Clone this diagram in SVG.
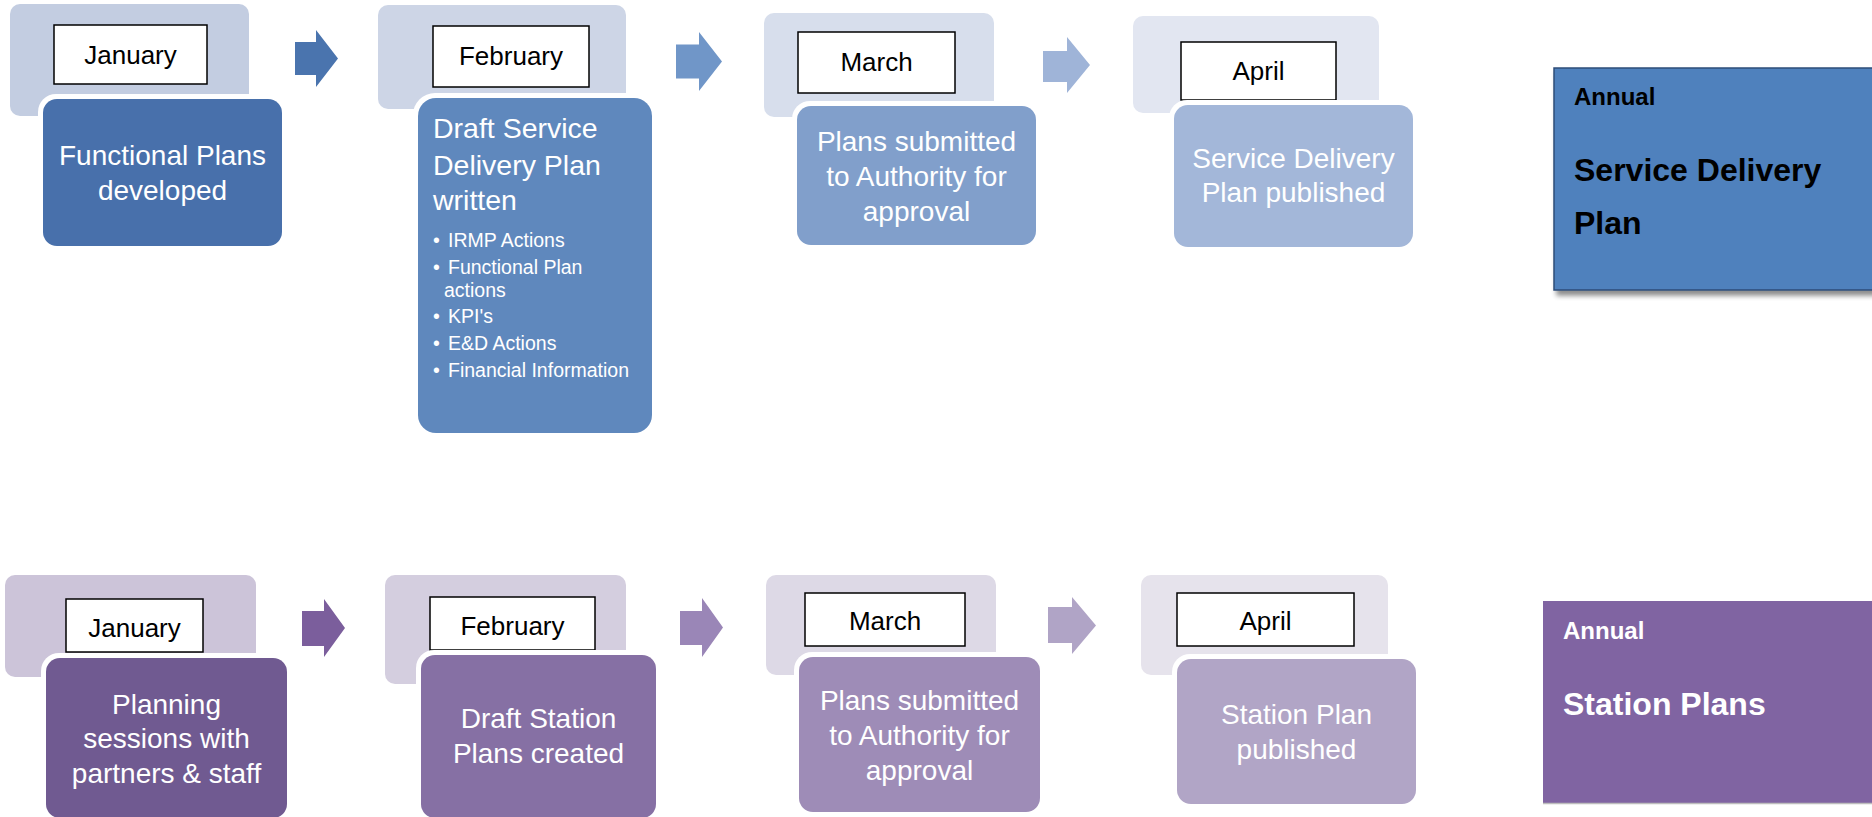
<svg xmlns="http://www.w3.org/2000/svg" width="1872" height="817" viewBox="0 0 1872 817">
  <style>
    .panel { stroke: none; }
    .label { fill: #ffffff; stroke: #000000; stroke-width: 1.5; }
    .halo { fill: #ffffff; }
    .month { font-family: "Liberation Sans", Arial, sans-serif; font-size: 26px; fill: #000000; text-anchor: middle; }
    .body { font-family: "Liberation Sans", Arial, sans-serif; font-size: 28px; fill: #ffffff; text-anchor: middle; }
    .bodyl { font-family: "Liberation Sans", Arial, sans-serif; font-size: 28.5px; fill: #ffffff; }
    .bullet { font-family: "Liberation Sans", Arial, sans-serif; font-size: 19.5px; fill: #ffffff; }
    .small { font-family: "Liberation Sans", Arial, sans-serif; font-size: 24px; font-weight: bold; }
    .title { font-family: "Liberation Sans", Arial, sans-serif; font-size: 32px; font-weight: bold; }
  </style>
  <defs>
    <filter id="shadow" x="-10%" y="-10%" width="130%" height="130%">
      <feGaussianBlur in="SourceAlpha" stdDeviation="2.5"/>
      <feOffset dx="3" dy="5" result="b"/>
      <feComponentTransfer><feFuncA type="linear" slope="0.45"/></feComponentTransfer>
      <feMerge><feMergeNode/><feMergeNode in="SourceGraphic"/></feMerge>
    </filter>
  </defs>

  <rect width="1872" height="817" fill="#ffffff"/>

  <!-- Service Delivery Plan row -->
  <g id="sdp-january">
    <rect class="panel" x="10" y="4" width="239" height="112" rx="10" fill="#C3CDE1"/>
    <rect class="label" x="54" y="25" width="153" height="59"/>
    <text class="month" x="130.5" y="64">January</text>
    <rect class="halo" x="38" y="94" width="249" height="157" rx="18"/>
    <rect x="43" y="99" width="239" height="147" rx="14" fill="#4870AB"/>
    <text class="body" x="162.5" y="165">Functional Plans</text>
    <text class="body" x="162.5" y="200">developed</text>
  </g>

  <g id="sdp-february">
    <rect class="panel" x="378" y="5" width="248" height="104" rx="10" fill="#CDD5E6"/>
    <rect class="label" x="433" y="26" width="156" height="61"/>
    <text class="month" x="511" y="65">February</text>
    <rect class="halo" x="413" y="93" width="244" height="345" rx="22"/>
    <rect x="418" y="98" width="234" height="335" rx="18" fill="#5F88BD"/>
    <text class="bodyl" x="433" y="138">Draft Service</text>
    <text class="bodyl" x="433" y="175">Delivery Plan</text>
    <text class="bodyl" x="433" y="210">written</text>
    <text class="bullet" x="433" y="247">•</text><text class="bullet" x="448" y="247">IRMP Actions</text>
    <text class="bullet" x="433" y="274">•</text><text class="bullet" x="448" y="274">Functional Plan</text>
    <text class="bullet" x="444" y="297">actions</text>
    <text class="bullet" x="433" y="323">•</text><text class="bullet" x="448" y="323">KPI's</text>
    <text class="bullet" x="433" y="350">•</text><text class="bullet" x="448" y="350">E&amp;D Actions</text>
    <text class="bullet" x="433" y="377">•</text><text class="bullet" x="448" y="377">Financial Information</text>
  </g>

  <g id="sdp-march">
    <rect class="panel" x="764" y="13" width="230" height="104" rx="10" fill="#D7DEEC"/>
    <rect class="label" x="798" y="32" width="157" height="61"/>
    <text class="month" x="876.5" y="71">March</text>
    <rect class="halo" x="792" y="101" width="249" height="149" rx="18"/>
    <rect x="797" y="106" width="239" height="139" rx="14" fill="#819FCB"/>
    <text class="body" x="916.5" y="151">Plans submitted</text>
    <text class="body" x="916.5" y="186">to Authority for</text>
    <text class="body" x="916.5" y="221">approval</text>
  </g>

  <g id="sdp-april">
    <rect class="panel" x="1133" y="16" width="246" height="97" rx="10" fill="#E2E6F1"/>
    <rect class="label" x="1181" y="42" width="155" height="58"/>
    <text class="month" x="1258.5" y="80">April</text>
    <rect class="halo" x="1169" y="100" width="249" height="152" rx="18"/>
    <rect x="1174" y="105" width="239" height="142" rx="14" fill="#A3B7D9"/>
    <text class="body" x="1293.5" y="168">Service Delivery</text>
    <text class="body" x="1293.5" y="202">Plan published</text>
  </g>

  <g id="sdp-annual">
    <rect x="1554" y="68" width="330" height="222" fill="#4F81BD" stroke="#2D4D78" stroke-width="1.5" filter="url(#shadow)"/>
    <text class="small" x="1574" y="105" fill="#000000">Annual</text>
    <text class="title" x="1574" y="181" fill="#000000">Service Delivery</text>
    <text class="title" x="1574" y="234" fill="#000000">Plan</text>
  </g>

  <!-- Station Plans row -->
  <g id="sp-january">
    <rect class="panel" x="5" y="575" width="251" height="102" rx="10" fill="#CCC4D9"/>
    <rect class="label" x="66" y="599" width="137" height="53"/>
    <text class="month" x="134.5" y="637">January</text>
    <rect class="halo" x="41" y="653" width="251" height="170" rx="18"/>
    <rect x="46" y="658" width="241" height="160" rx="14" fill="#705A91"/>
    <text class="body" x="166.5" y="714">Planning</text>
    <text class="body" x="166.5" y="748">sessions with</text>
    <text class="body" x="166.5" y="783">partners &amp; staff</text>
  </g>

  <g id="sp-february">
    <rect class="panel" x="385" y="575" width="241" height="109" rx="10" fill="#D4CEDF"/>
    <rect class="label" x="430" y="597" width="165" height="53"/>
    <text class="month" x="512.5" y="635">February</text>
    <rect class="halo" x="416" y="650" width="245" height="173" rx="18"/>
    <rect x="421" y="655" width="235" height="163" rx="14" fill="#8670A4"/>
    <text class="body" x="538.5" y="728">Draft Station</text>
    <text class="body" x="538.5" y="763">Plans created</text>
  </g>

  <g id="sp-march">
    <rect class="panel" x="766" y="575" width="230" height="100" rx="10" fill="#DDD9E6"/>
    <rect class="label" x="805" y="593" width="160" height="53"/>
    <text class="month" x="885" y="630">March</text>
    <rect class="halo" x="794" y="652" width="251" height="165" rx="18"/>
    <rect x="799" y="657" width="241" height="155" rx="14" fill="#9E8CB7"/>
    <text class="body" x="919.5" y="710">Plans submitted</text>
    <text class="body" x="919.5" y="745">to Authority for</text>
    <text class="body" x="919.5" y="780">approval</text>
  </g>

  <g id="sp-april">
    <rect class="panel" x="1141" y="575" width="247" height="100" rx="10" fill="#E6E3EC"/>
    <rect class="label" x="1177" y="593" width="177" height="53"/>
    <text class="month" x="1265.5" y="630">April</text>
    <rect class="halo" x="1172" y="654" width="249" height="155" rx="18"/>
    <rect x="1177" y="659" width="239" height="145" rx="14" fill="#B1A5C6"/>
    <text class="body" x="1296.5" y="724">Station Plan</text>
    <text class="body" x="1296.5" y="759">published</text>
  </g>

  <g id="sp-annual">
    <rect x="1543" y="601" width="330" height="202" fill="#8064A2"/>
    <line x1="1543" y1="803.5" x2="1872" y2="803.5" stroke="#BDBDBD" stroke-width="1.5"/>
    <text class="small" x="1563" y="639" fill="#ffffff">Annual</text>
    <text class="title" x="1563" y="715" fill="#ffffff">Station Plans</text>
  </g>

  <!-- block arrows between months -->
  <g id="connectors">
    <polygon points="295,42 316,42 316,30 338,58.5 316,87 316,75 295,75" fill="#4A74AE"/>
    <polygon points="676,44.5 699,44.5 699,32 722,61.5 699,91 699,78.5 676,78.5" fill="#7096C8"/>
    <polygon points="1043,51 1067,51 1067,37 1090,65 1067,93 1067,82 1043,82" fill="#9FB4D8"/>
    <polygon points="302,611 324,611 324,599 345,628 324,657 324,646 302,646" fill="#7B5E9C"/>
    <polygon points="680,611 702,611 702,598 723,627.5 702,657 702,645 680,645" fill="#9A86B7"/>
    <polygon points="1048,607 1072,607 1072,597 1096,625.5 1072,654 1072,643 1048,643" fill="#B0A4C6"/>
  </g>
</svg>
